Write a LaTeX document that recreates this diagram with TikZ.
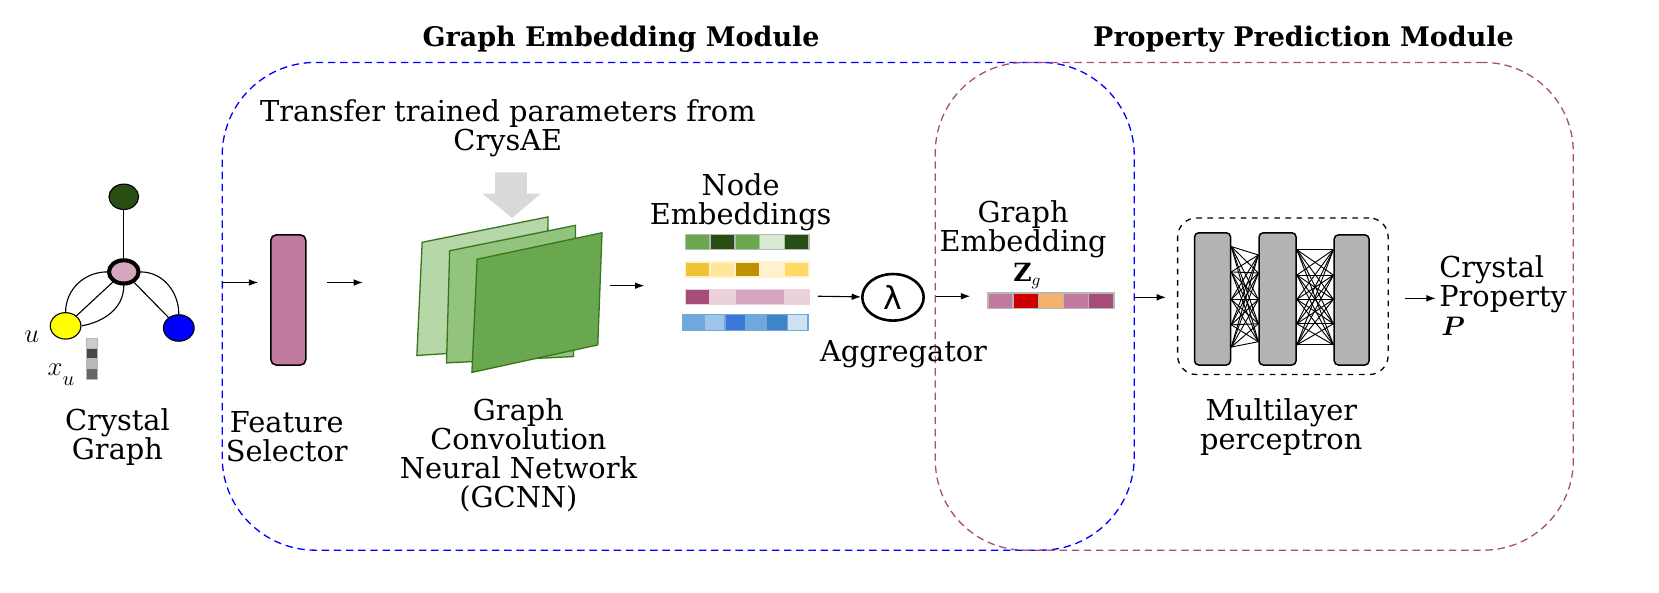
\documentclass[tikz,border=0pt]{standalone}
\usepackage{fontspec}
\setmainfont{DejaVu Serif}
\newfontfamily\lamfont{DejaVu Sans}
\usepackage{bm}
\usetikzlibrary{shapes.geometric,arrows.meta}
\newlength\upx \setlength\upx{0.02cm}
\definecolor{blueb}{HTML}{0000FF}
\definecolor{pinkb}{HTML}{A64D79}
\definecolor{gdark}{HTML}{274E13}
\definecolor{gpink}{HTML}{D5A6BD}
\definecolor{gyel}{HTML}{FFFF00}
\definecolor{gblue}{HTML}{0000FF}
\definecolor{fsel}{HTML}{C27BA0}
\definecolor{lgA}{HTML}{B6D7A8}
\definecolor{lgB}{HTML}{93C47D}
\definecolor{lgC}{HTML}{6AA84F}
\definecolor{lgD}{HTML}{38761D}
\definecolor{garr}{HTML}{D9D9D9}
\definecolor{eA1}{HTML}{6AA84F}
\definecolor{eA2}{HTML}{274E13}
\definecolor{eA3}{HTML}{D9EAD3}
\definecolor{eB1}{HTML}{F1C232}
\definecolor{eB2}{HTML}{FFE599}
\definecolor{eB3}{HTML}{BF9000}
\definecolor{eB4}{HTML}{FFF2CC}
\definecolor{eB5}{HTML}{FFD966}
\definecolor{eC1}{HTML}{A64D79}
\definecolor{eC2}{HTML}{EAD1DC}
\definecolor{eC3}{HTML}{D5A6BD}
\definecolor{eD1}{HTML}{6FA8DC}
\definecolor{eD2}{HTML}{9FC5E8}
\definecolor{eD3}{HTML}{3C78D8}
\definecolor{eD4}{HTML}{3D85C6}
\definecolor{eD5}{HTML}{CFE2F3}
\definecolor{zA}{HTML}{C27BA0}
\definecolor{zB}{HTML}{CC0000}
\definecolor{zC}{HTML}{F6B26B}
\definecolor{zD}{HTML}{A64D79}
\definecolor{cellb}{HTML}{B7B7B7}
\definecolor{mlpg}{HTML}{B3B3B3}
\begin{document}
\begin{tikzpicture}[x=0.02cm,y=-0.02cm,
  txt/.style={font=\fontsize{15.5}{15.6}\selectfont, align=center, inner sep=0pt},
  title/.style={font=\bfseries\fontsize{14.5}{17}\selectfont, inner sep=0pt},
  arr/.style={-{Latex[length=5pt,width=3.6pt]}, line width=0.6pt},
  dashpat/.style={dash pattern=on 7\upx off 4.5\upx, line width=0.7pt},
  gnode/.style={draw, ellipse, line width=0.6pt, inner sep=0pt},
  edge/.style={line width=0.6pt},
  cell/.style={draw, line width=0.8pt, anchor=north west, inner sep=0pt, minimum height=14\upx},
  layer/.style={draw=lgD, line width=0.7pt},
  bar/.style={draw, fill=mlpg, line width=0.8pt, rounded corners=4\upx, inner sep=0pt},
  conn/.style={line width=0.5pt}
]
\useasboundingbox (0,0) rectangle (1568,560);

% titles
\node[title] (t1) at (587,37) {Graph Embedding Module};
\node[title] (t2) at (1232,37) {Property Prediction Module};

% module boxes
\node[draw=blueb, dashpat, rounded corners=88\upx, minimum width=862\upx, minimum height=461\upx, inner sep=0pt] (gembox) at (641,289.5) {};
\node[draw=pinkb, dashpat, rounded corners=85\upx, minimum width=603\upx, minimum height=461\upx, inner sep=0pt] (ppbox) at (1185.5,289.5) {};

% crystal graph
\node[gnode, fill=gdark, minimum width=28\upx, minimum height=24\upx] (g1) at (117,186) {};
\node[gnode, fill=gpink, line width=2.2pt, minimum width=28\upx, minimum height=22\upx] (g2) at (117,257) {};
\node[gnode, fill=gyel, minimum width=29\upx, minimum height=25\upx] (g3) at (62,308) {};
\node[gnode, fill=gblue, minimum width=29\upx, minimum height=25\upx] (g4) at (169,310) {};
\draw[edge] (g1) -- (g2);
\draw[edge] (g2) -- (g3);
\draw[edge] (g2) -- (g4);
\draw[edge] (g2.west) to[out=180,in=90] (g3.north);
\draw[edge] (g2.south) to[out=-90,in=10] (g3.east);
\draw[edge] (g2.east) to[out=0,in=90] (g4.north);
\node[inner sep=0pt, font=\fontsize{15}{15}\selectfont] (ulab) at (30,318) {$u$};
\node[inner sep=0pt, font=\fontsize{15}{15}\selectfont] (xlab) at (58,354) {$x_{\raisebox{-3pt}{$\scriptstyle u$}}$};
\node[cell, draw=cellb, line width=0.5pt, fill=black!20, minimum width=11\upx, minimum height=10\upx] (v1) at (81,319) {};
\node[cell, draw=cellb, line width=0.5pt, fill=black!72, minimum width=11\upx, minimum height=9\upx] (v2) at (81,329) {};
\node[cell, draw=cellb, line width=0.5pt, fill=black!27, minimum width=11\upx, minimum height=10\upx] (v3) at (81,338) {};
\node[cell, draw=cellb, line width=0.5pt, fill=black!60, minimum width=11\upx, minimum height=10\upx] (v4) at (81,348) {};
\node[txt] (cglab) at (111,413) {Crystal\\Graph};

% feature selector
\coordinate (a1s) at (210,267);
\coordinate (a1e) at (244,267);
\draw[arr] (a1s) -- (a1e);
\node[draw, fill=fsel, line width=0.8pt, rounded corners=5\upx, minimum width=33\upx, minimum height=123\upx, inner sep=0pt] (fs) at (272.5,283.5) {};
\node[txt] (fslab) at (271,413) {Feature\\Selector};
\coordinate (a2s) at (309,267);
\coordinate (a2e) at (343,267);
\draw[arr] (a2s) -- (a2e);

% transfer text and gray arrow
\node[txt] (trlab) at (480,121) {Transfer trained parameters from\\CrysAE};
\fill[garr] (468,163) -- (498,163) -- (498,183) -- (511,183) -- (484,206) -- (456,183) -- (468,183) -- cycle;

% GCNN layers
\filldraw[layer, fill=lgA] (399,229) -- (518,205) -- (516,328) -- (394,336) -- cycle;
\filldraw[layer, fill=lgB] (425,237) -- (544,213) -- (542,337) -- (422,343) -- cycle;
\filldraw[layer, fill=lgC] (451,245) -- (569,220) -- (565,326) -- (446,352) -- cycle;
\node[txt] (gclab) at (490,430) {Graph\\Convolution\\Neural Network\\(GCNN)};
\coordinate (a3s) at (577,270);
\coordinate (a3e) at (609,270);
\draw[arr] (a3s) -- (a3e);

% node embeddings
\node[txt] (nelab) at (700,191) {Node\\Embeddings};
\foreach \c [count=\i from 0] in {eA1,eA2,eA1,eA3,eA2}
  \node[cell, draw=cellb, fill=\c, minimum width=23.4\upx] (ra\i) at (647+\i*23.4,221) {};
\foreach \c [count=\i from 0] in {eB1,eB2,eB3,eB4,eB5}
  \node[cell, draw=eB4, fill=\c, minimum width=23.4\upx] (rb\i) at (647+\i*23.4,247) {};
\node[cell, draw=eC2, fill=eC1, minimum width=23.4\upx] (rc0) at (647,273) {};
\node[cell, draw=eC2, fill=eC2, minimum width=23.4\upx] (rc1) at (670.4,273) {};
\node[cell, draw=eC2, fill=eC3, minimum width=46.8\upx] (rc2) at (693.8,273) {};
\node[cell, draw=eC2, fill=eC2, minimum width=23.4\upx] (rc3) at (740.6,273) {};
\foreach \c [count=\i from 0] in {eD1,eD2,eD3,eD1,eD4,eD5}
  \node[cell, draw=eD1, fill=\c, minimum width=19.67\upx, minimum height=15\upx] (rd\i) at (645+\i*19.67,296.5) {};

% aggregator
\coordinate (a4s) at (773,280);
\node[draw, ellipse, line width=1.4pt, minimum width=58\upx, minimum height=44\upx, inner sep=0pt, font=\lamfont\fontsize{17}{17}\selectfont] (lam) at (844,281) {λ};
\draw[arr] (a4s) -- (lam);
\node[txt] (aglab) at (854,335) {Aggregator};

% graph embedding
\coordinate (a5s) at (885,280);
\coordinate (a5e) at (917,280);
\draw[arr] (a5s) -- (a5e);
\node[txt] (gelab) at (967,217) {Graph\\Embedding};
\node[inner sep=0pt, font=\fontsize{13.5}{13.5}\selectfont] (zg) at (971,261) {$\mathbf{Z}_{g}$};
\foreach \c [count=\i from 0] in {zA,zB,zC,zA,zD}
  \node[cell, draw=cellb, fill=\c, minimum width=23.8\upx, minimum height=15\upx] (z\i) at (933+\i*23.8,276) {};

% MLP
\coordinate (a6s) at (1072,281);
\coordinate (a6e) at (1102,281);
\draw[arr] (a6s) -- (a6e);
\node[draw, dashed, line width=0.7pt, rounded corners=18\upx, minimum width=199\upx, minimum height=148\upx, inner sep=0pt] (mlpbox) at (1212.5,280) {};
\node[bar, minimum width=34\upx, minimum height=125\upx] (b1) at (1146,282.5) {};
\node[bar, minimum width=35\upx, minimum height=125\upx] (b2) at (1207.5,282.5) {};
\node[bar, minimum width=33\upx, minimum height=123\upx] (b3) at (1277.5,283.5) {};
\foreach \a in {233,257,283,307,328}
  \foreach \b in {241,258,283,306,323}
    \draw[conn] (b1.east |- 0,\a) -- (b2.west |- 0,\b);
\foreach \a in {236,260,283,306,326}
  \foreach \b in {236,260,283,306,326}
    \draw[conn] (b2.east |- 0,\a) -- (b3.west |- 0,\b);
\node[txt] (mlplab) at (1211,404) {Multilayer\\perceptron};

% output
\coordinate (a7s) at (1328,282);
\coordinate (a7e) at (1357,282);
\draw[arr] (a7s) -- (a7e);
\node[txt, align=left, anchor=west] (cplab) at (1360,269) {Crystal\\Property};
\node[inner sep=0pt, anchor=west, font=\fontsize{14}{14}\selectfont] (plab) at (1362,308) {$\bm{P}$};
\end{tikzpicture}
\end{document}
